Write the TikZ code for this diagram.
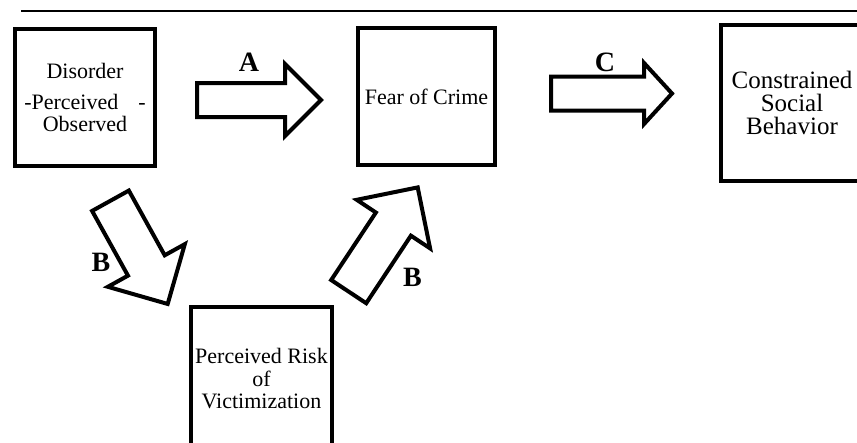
\documentclass[tikz,border=0pt]{standalone}
\usepackage{fontspec}
\setmainfont{Liberation Serif}
\usetikzlibrary{shapes.arrows}

\tikzset{
  factor/.style={draw, rectangle, line width=4pt, inner sep=0pt, align=center,
    font=\fontsize{22}{22.5}\selectfont},
  bigarrow/.style={draw, single arrow, line width=4pt, inner xsep=0pt, anchor=tail,
    single arrow tip angle=90},
  pathlabel/.style={inner sep=0pt, font=\fontsize{28}{28}\selectfont\bfseries}
}

\begin{document}
\begin{tikzpicture}[x=1pt, y=-1pt]
            \useasboundingbox (0,0) rectangle (857,442);
            % Rule at the top
            \coordinate (ruleL) at (21,11);
            \coordinate (ruleR) at (857,11);
            \draw[line width=2pt] (ruleL) -- (ruleR);

            % Boxes
            \node[factor, minimum width=140pt, minimum height=137pt] (disorder) at (85,97.5)
                {Disorder\\[8pt]-Perceived\hspace{20pt}-\\Observed};
            \node[factor, minimum width=137pt, minimum height=137pt] (fear) at (426.5,96.5) {Fear of Crime};
            \node[factor, minimum width=142pt, minimum height=156pt, font=\fontsize{25}{23}\selectfont] (constrained) at (792,103)
                {Constrained\\Social\\Behavior};
            \node[factor, minimum width=141pt, minimum height=144pt] (risk) at (261.5,379)
                {Perceived Risk\\of\\Victimization};

            % Block arrows (placed by their tails)
            \node[bigarrow, minimum height=124pt, inner ysep=15pt, single arrow head extend=19pt] (arrA) at (195,100) {};
            \node[bigarrow, minimum height=121pt, inner ysep=15pt, single arrow head extend=13.5pt, single arrow tip angle=95] (arrC) at (549,93.5) {};
            \node[bigarrow, minimum height=118pt, inner ysep=19pt, single arrow head extend=23pt, rotate=-61] (arrBl) at (109.5,199) {};
            \node[bigarrow, minimum height=125pt, inner ysep=19pt, single arrow head extend=23pt, rotate=56.5] (arrBr) at (347.6,293.3) {};

            % Path labels
            \node[pathlabel] (labA) at (249,62.5) {A};
            \node[pathlabel] (labC) at (605,62.5) {C};
            \node[pathlabel] (labBl) at (101,262.5) {B};
            \node[pathlabel] (labBr) at (412.5,277.5) {B};
        \end{tikzpicture}
\end{document}
